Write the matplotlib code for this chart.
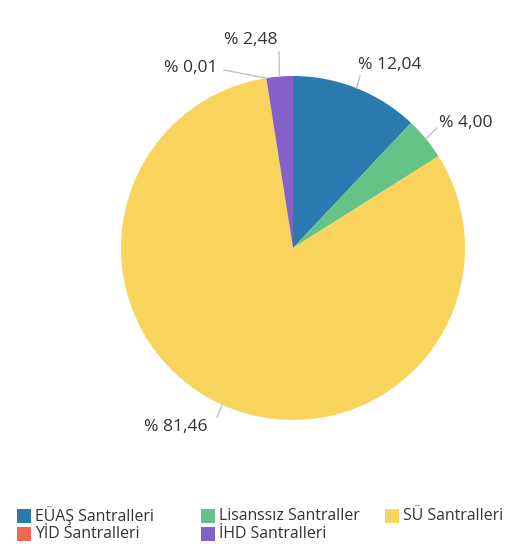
import numpy as np
import matplotlib
matplotlib.use('Agg')
import matplotlib.pyplot as plt
from matplotlib.patches import Rectangle

plt.rcParams['font.family'] = ['Open Sans', 'DejaVu Sans']

# Veriler
categories = ['EÜAŞ Santralleri', 'Lisanssız Santraller', 'SÜ Santralleri',
              'YİD Santralleri', 'İHD Santralleri']
shares = [12.04, 4.00, 81.46, 0.01, 2.48]
labels = ['% 12,04', '% 4,00', '% 81,46', '% 0,01', '% 2,48']
colors = ['#2a7ab0', '#66c387', '#f9d45c', '#ef6a4c', '#8560c8']

W, H = 505, 544
fig = plt.figure(figsize=(W / 100, H / 100), dpi=100)
ax = fig.add_axes([0, 0, 1, 1])

cx, cy, r = 293, H - 248, 172
wedges, _ = ax.pie(shares, colors=colors, startangle=90, counterclock=False,
                   center=(cx, cy), radius=r, frame=True,
                   wedgeprops=dict(linewidth=0))
ax.set_xlim(0, W)
ax.set_ylim(0, H)
ax.axis('off')

# Etiket konumlari (piksel, ust soldan)
text_pos = [(358, 65), (439, 123), (208, 427), (218, 68), (251, 40)]
line_end = [(360, 76), (437, 128), (217, 417), (224, 70), (279, 52)]
ha_list = ['left', 'left', 'right', 'right', 'center']

cum = np.cumsum([0] + shares[:-1])
for i, s in enumerate(shares):
    ang = np.deg2rad(90 - (cum[i] + s / 2) * 3.6)
    ex, ey = cx + r * np.cos(ang), cy + r * np.sin(ang)
    lx, ly = line_end[i][0], H - line_end[i][1]
    ax.plot([ex, lx], [ey, ly], color='#b8c4d6', linewidth=1)
    tx, ty = text_pos[i]
    ax.text(tx, H - ty, labels[i], ha=ha_list[i], va='center',
            fontsize=12.6, color='#333333')

# Lejant
leg_pos = [(17, 516), (201, 516), (385, 516), (17, 534), (201, 534)]
for i, name in enumerate(categories):
    x, y = leg_pos[i]
    ax.add_patch(Rectangle((x, H - y - 7), 14, 14, color=colors[i], linewidth=0))
    ax.text(x + 18, H - y, name, ha='left', va='center',
            fontsize=11.4, color='#333333')

fig.savefig('out.png', dpi=100)
